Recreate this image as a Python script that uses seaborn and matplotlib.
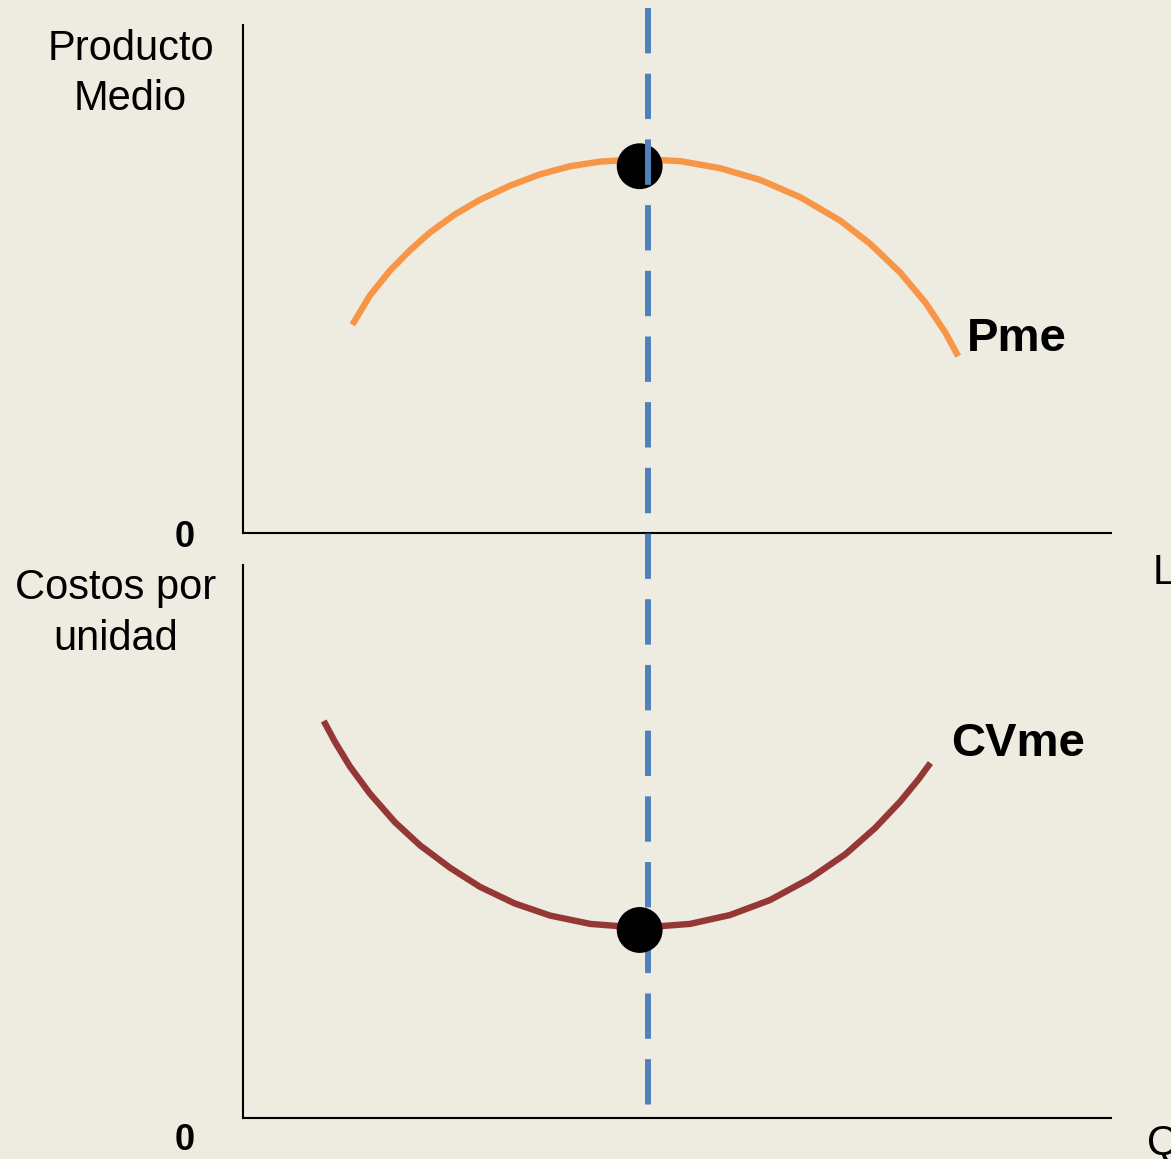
import matplotlib
matplotlib.use("Agg")
import matplotlib.pyplot as plt
import seaborn as sns

# ---- data ----
pme_x = [12.6, 14.6, 16.9, 19.2, 21.5, 24.4, 27.3, 30.8, 34.2, 37.7, 41.1, 45.7,
         50.4, 55.0, 59.6, 64.2, 68.8, 72.2, 75.7, 78.6, 80.9, 82.4]
pme_y = [41.0, 46.7, 51.6, 55.6, 59.1, 62.7, 65.6, 68.4, 70.6, 72.2, 73.1, 73.6,
         73.2, 71.8, 69.5, 66.1, 61.5, 57.0, 51.3, 45.4, 39.5, 34.8]

cvme_x = [9.3, 10.6, 12.3, 14.6, 17.5, 20.4, 23.9, 27.3, 31.3, 35.4, 40.0, 45.7,
          51.5, 56.1, 60.7, 65.3, 69.4, 72.8, 75.7, 77.8, 79.2]
cvme_y = [71.8, 68.0, 63.6, 58.7, 53.5, 49.3, 45.2, 41.8, 38.8, 36.6, 35.1, 34.4,
          35.1, 36.7, 39.4, 43.3, 47.7, 52.4, 57.2, 61.2, 64.2]

opt_x = [45.7]          # optimum point (max Pme / min CVme)
pme_opt_y = [72.2]
cvme_opt_y = [34.0]
guide_x = [46.7, 46.7]  # dashed guide line
guide_y = [103.3, -112.6]

BG = "#EEECE1"
ORANGE = "#F79646"
BROWN = "#953735"
BLUE = "#4F81BD"

sns.set_theme(style="white")
plt.rcParams["font.family"] = ["Liberation Sans", "DejaVu Sans"]

W, H = 1171, 1159
fig = plt.figure(figsize=(W / 100, H / 100), dpi=100, facecolor=BG)

def px(x, y):
    return x / W, 1 - y / H

ax_top = fig.add_axes([243 / W, 1 - 533 / H, 868 / W, 508 / H])
ax_bot = fig.add_axes([243 / W, 1 - 1118 / H, 868 / W, 553 / H])

for ax in (ax_top, ax_bot):
    ax.set_facecolor("none")
    ax.set_xlim(0, 100)
    ax.set_ylim(0, 100)
    for s in ("top", "right"):
        ax.spines[s].set_visible(False)
    for s in ("left", "bottom"):
        ax.spines[s].set_color("black")
        ax.spines[s].set_linewidth(1.5)

sns.lineplot(x=pme_x, y=pme_y, ax=ax_top, color=ORANGE, linewidth=4.6,
             estimator=None, sort=False, solid_capstyle="butt",
             solid_joinstyle="round", zorder=2)
sns.lineplot(x=cvme_x, y=cvme_y, ax=ax_bot, color=BROWN, linewidth=4.6,
             estimator=None, sort=False, solid_capstyle="butt",
             solid_joinstyle="round", zorder=2)

sns.scatterplot(x=opt_x, y=pme_opt_y, ax=ax_top, color="black", s=33 ** 2,
                edgecolor="none", zorder=3, clip_on=False)
sns.scatterplot(x=opt_x, y=cvme_opt_y, ax=ax_bot, color="black", s=33 ** 2,
                edgecolor="none", zorder=3, clip_on=False)

ln, = ax_top.plot(guide_x, guide_y, color=BLUE, linewidth=4.3,
                  clip_on=False, zorder=5)
ln.set_linestyle((0, (7.6, 3.4)))
ln.set_dash_capstyle("butt")

for ax in (ax_top, ax_bot):
    ax.set_xticks([])
    ax.set_yticks([])
    ax.set_xlabel("")
    ax.set_ylabel("")
    leg = ax.get_legend()
    if leg:
        leg.remove()

txt = dict(color="black", va="baseline")
fig.text(*px(131, 60), "Producto", ha="center", fontsize=30, **txt)
fig.text(*px(130, 110), "Medio", ha="center", fontsize=30, **txt)
fig.text(*px(116, 599), "Costos por", ha="center", fontsize=30, **txt)
fig.text(*px(116, 650), "unidad", ha="center", fontsize=30, **txt)
fig.text(*px(185, 547), "0", ha="center", fontsize=26, fontweight="bold", **txt)
fig.text(*px(185, 1150), "0", ha="center", fontsize=26, fontweight="bold", **txt)
fig.text(*px(1153, 584), "L", ha="left", fontsize=30, **txt)
fig.text(*px(1147, 1154), "Q", ha="left", fontsize=30, **txt)
fig.text(*px(967, 351), "Pme", ha="left", fontsize=34, fontweight="bold", **txt)
fig.text(*px(951, 756), "CVme", ha="left", fontsize=34, fontweight="bold", **txt)

fig.savefig("out.png", dpi=100, facecolor=BG)
